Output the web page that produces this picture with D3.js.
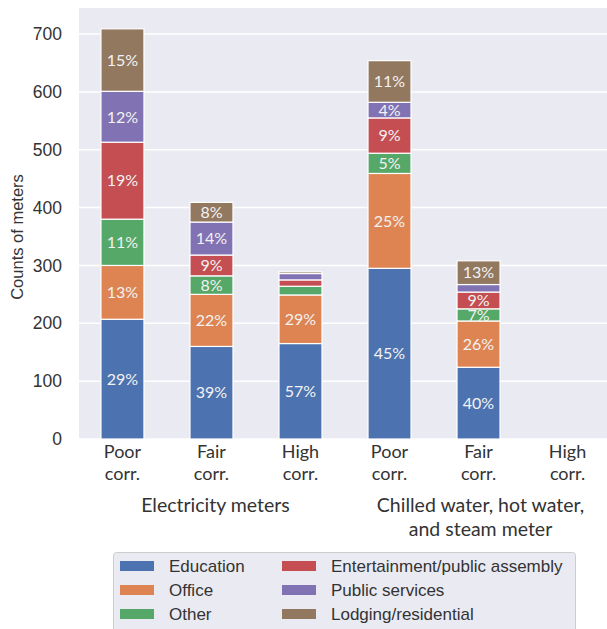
<!DOCTYPE html>
<html>
<head>
<meta charset="utf-8">
<script src="https://cdn.jsdelivr.net/npm/d3@7"></script>
<style>
  html, body { margin: 0; padding: 0; background: #ffffff; }
  svg { display: block; }
</style>
</head>
<body>
<svg id="chart" width="607" height="629"></svg>
<script>
// ---- data ----
const categoryIds = ["e-poor", "e-fair", "e-high", "c-poor", "c-fair", "c-high"];
const tickLine1 = ["Poor", "Fair", "High", "Poor", "Fair", "High"];
const tickLine2 = ["corr.", "corr.", "corr.", "corr.", "corr.", "corr."];
const groupLabels = [["Electricity meters"], ["Chilled water, hot water,", "and steam meter"]];
const seriesNames = ["Education", "Office", "Other", "Entertainment/public assembly", "Public services", "Lodging/residential"];
const education     = [207, 160, 165, 295, 124, 0];
const office        = [ 93,  90,  84, 164,  80, 0];
const other         = [ 80,  32,  15,  35,  21, 0];
const entertainment = [133,  36,  11,  61,  29, 0];
const publicServ    = [ 88,  57,  11,  27,  13, 0];
const lodging       = [108,  34,   3,  72,  41, 0];
const yTicks = [0, 100, 200, 300, 400, 500, 600, 700];
const colors = ["#4c72b0", "#dd8452", "#55a868", "#c44e52", "#8172b3", "#937860"];

const seriesValues = [education, office, other, entertainment, publicServ, lodging];

// ---- layout ----
const svg = d3.select("#chart");
const plot = { left: 79, right: 612, top: 8, bottom: 439 };

const x = d3.scaleBand().domain(categoryIds).range([78, 612]).paddingInner(0.517).paddingOuter(0.258);
const y = d3.scaleLinear().domain([0, 745]).range([plot.bottom, plot.top]);

// background
svg.append("rect").attr("x", plot.left).attr("y", plot.top)
  .attr("width", plot.right - plot.left).attr("height", plot.bottom - plot.top)
  .attr("fill", "#eaeaf2");

// grid
svg.append("g").selectAll("line").data(yTicks).join("line")
  .attr("x1", plot.left).attr("x2", plot.right)
  .attr("y1", d => y(d)).attr("y2", d => y(d))
  .attr("stroke", "#ffffff").attr("stroke-width", 1.5);

// y tick labels via axis
const yAxis = d3.axisLeft(y).tickValues(yTicks).tickSize(0).tickPadding(0);
const yg = svg.append("g").attr("transform", `translate(62,0)`).call(yAxis);
yg.select(".domain").remove();
yg.selectAll("text").attr("font-family", "Liberation Sans, Arial, sans-serif")
  .attr("font-size", 17.5).attr("fill", "#333333");

// y label
svg.append("text").attr("transform", "translate(23,237) rotate(-90)")
  .attr("text-anchor", "middle")
  .attr("font-family", "Liberation Sans, Arial, sans-serif")
  .attr("font-size", 16.5).attr("fill", "#333333").text("Counts of meters");

// stacked data
const table = categoryIds.map((id, i) => {
  const row = { id };
  seriesNames.forEach((s, k) => row[s] = seriesValues[k][i]);
  return row;
});
const stack = d3.stack().keys(seriesNames)(table);
const totals = categoryIds.map((id, i) => d3.sum(seriesValues, s => s[i]));

const layers = svg.append("g").selectAll("g").data(stack).join("g")
  .attr("fill", (d, k) => colors[k]);
layers.selectAll("rect").data(d => d).join("rect")
  .attr("x", d => x(d.data.id))
  .attr("width", x.bandwidth())
  .attr("y", d => y(d[1]))
  .attr("height", d => Math.max(0, y(d[0]) - y(d[1])))
  .attr("stroke", "#ffffff").attr("stroke-width", 1.2)
  .attr("display", d => (d[1] - d[0]) > 0 ? null : "none");

// percentage labels
layers.selectAll("text").data(d => d.map((v, i) => ({ v, i }))).join("text")
  .filter(d => (d.v[1] - d.v[0]) >= 20)
  .attr("x", d => x(d.v.data.id) + x.bandwidth() / 2)
  .attr("y", d => (y(d.v[0]) + y(d.v[1])) / 2)
  .attr("dy", "0.36em")
  .attr("text-anchor", "middle")
  .attr("font-family", "Lato, sans-serif")
  .attr("font-size", 16)
  .attr("fill", "#f2f2f2")
  .text(d => Math.round((d.v[1] - d.v[0]) / totals[d.i] * 100) + "%");

// x tick labels (two separate lines)
const xtg = svg.append("g")
  .attr("font-family", "Lato, sans-serif")
  .attr("font-size", 18).attr("fill", "#333333").attr("text-anchor", "middle");
xtg.selectAll("text.l1").data(categoryIds).join("text").attr("class", "l1")
  .attr("x", d => x(d) + x.bandwidth() / 2).attr("y", 458)
  .text((d, i) => tickLine1[i]);
xtg.selectAll("text.l2").data(categoryIds).join("text").attr("class", "l2")
  .attr("x", d => x(d) + x.bandwidth() / 2).attr("y", 479.8)
  .text((d, i) => tickLine2[i]);

// group labels
const groupCenters = [
  (x(categoryIds[0]) + x(categoryIds[2]) + x.bandwidth()) / 2 + 4,
  (x(categoryIds[3]) + x(categoryIds[5]) + x.bandwidth()) / 2 + 2
];
groupLabels.forEach((lines, g) => {
  lines.forEach((ln, j) => {
    svg.append("text").attr("text-anchor", "middle")
      .attr("font-family", "Lato, sans-serif")
      .attr("font-size", 19.5).attr("fill", "#333333")
      .attr("x", groupCenters[g]).attr("y", 512 + j * 23.6).text(ln);
  });
});

// legend
const lg = svg.append("g");
lg.append("rect").attr("x", 113.5).attr("y", 552.5).attr("width", 462).attr("height", 100)
  .attr("rx", 3).attr("fill", "#eaeaf2").attr("stroke", "#cccccc").attr("stroke-width", 1);
seriesNames.forEach((s, k) => {
  const col = Math.floor(k / 3), row = k % 3;
  const sx = col === 0 ? 120 : 282;
  const by = 572 + row * 24;
  lg.append("rect").attr("x", sx).attr("y", by - 11).attr("width", 34).attr("height", 10)
    .attr("fill", colors[k]);
  lg.append("text").attr("x", sx + 49).attr("y", by)
    .attr("font-family", "Liberation Sans, Arial, sans-serif")
    .attr("font-size", 17).attr("fill", "#333333").text(s);
});
</script>
</body>
</html>
